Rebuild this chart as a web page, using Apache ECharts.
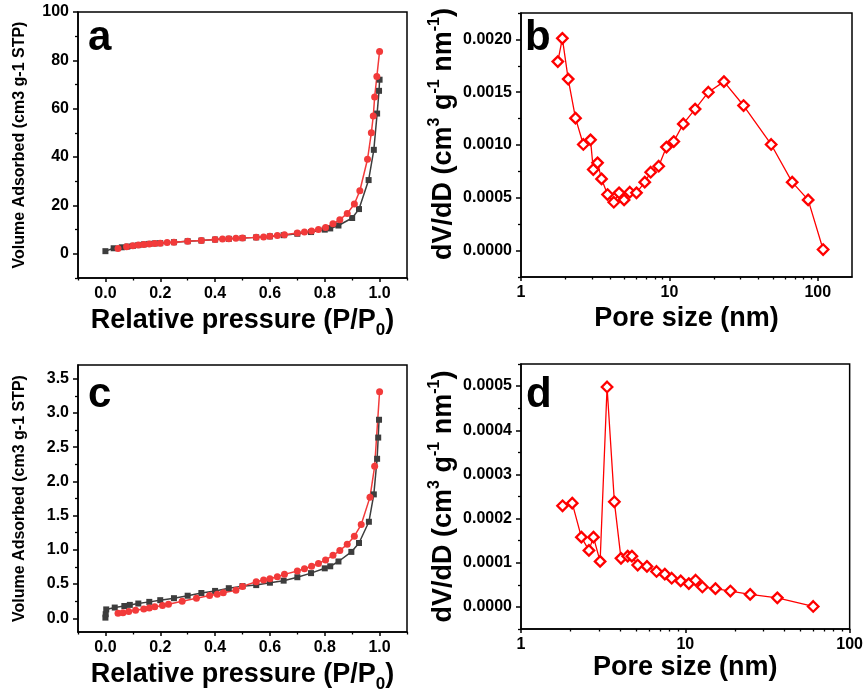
<!DOCTYPE html>
<html><head><meta charset="utf-8">
<script src="https://cdn.jsdelivr.net/npm/echarts@6/dist/echarts.min.js"></script>
<style>html,body{margin:0;padding:0;background:#fff}#c{width:866px;height:700px}</style>
</head><body><div id="c"></div>
<script>
// ---------- Panel a (isotherm, sample 1) ----------
const aAdsP = [0.0, 0.03, 0.06, 0.08, 0.10, 0.12, 0.14, 0.16, 0.18, 0.20, 0.25, 0.30, 0.35, 0.40, 0.45, 0.50, 0.55, 0.60, 0.65, 0.70, 0.75, 0.80, 0.82, 0.85, 0.90, 0.925, 0.96, 0.979, 0.991, 0.998, 1.0];
const aAdsV = [1.1, 2.3, 2.7, 3.0, 3.3, 3.6, 3.9, 4.1, 4.3, 4.4, 4.8, 5.2, 5.5, 5.9, 6.2, 6.5, 6.8, 7.2, 7.7, 8.3, 9.0, 10.0, 10.5, 11.7, 14.8, 18.5, 30.5, 43, 58, 67.4, 72];
const aDesP = [0.046, 0.077, 0.10, 0.12, 0.14, 0.16, 0.18, 0.20, 0.225, 0.25, 0.30, 0.35, 0.40, 0.427, 0.45, 0.476, 0.50, 0.55, 0.577, 0.60, 0.627, 0.653, 0.70, 0.726, 0.752, 0.777, 0.803, 0.83, 0.855, 0.882, 0.908, 0.928, 0.956, 0.970, 0.977, 0.982, 0.99, 1.0];
const aDesV = [2.2, 2.9, 3.3, 3.6, 3.9, 4.1, 4.3, 4.4, 4.7, 4.8, 5.2, 5.5, 5.9, 6.1, 6.2, 6.4, 6.5, 6.8, 7.0, 7.3, 7.6, 7.9, 8.6, 9.0, 9.4, 10.1, 10.9, 12.4, 14.1, 16.7, 20.6, 26.1, 39.1, 50.1, 57, 64.8, 73.3, 83.7];

// ---------- Panel b (pore size distribution, sample 1) ----------
const bSize = [1.77, 1.90, 2.08, 2.33, 2.63, 2.94, 3.07, 3.28, 3.49, 3.83, 4.22, 4.58, 4.95, 5.41, 6.0, 6.82, 7.48, 8.47, 9.55, 10.7, 12.4, 14.9, 18.3, 23.3, 31.6, 48.5, 67.2, 86.1, 108.6];
const bDvdd = [0.00179, 0.00201, 0.001624, 0.001254, 0.001005, 0.001049, 0.000768, 0.000831, 0.000679, 0.000531, 0.000458, 0.000547, 0.00048, 0.000553, 0.000547, 0.000648, 0.000742, 0.000799, 0.00098, 0.001033, 0.0012, 0.00134, 0.0015, 0.0016, 0.001374, 0.001005, 0.000648, 0.00048, 0.00001];

// ---------- Panel c (isotherm, sample 2) ----------
const cAdsP = [0.0, 0.001, 0.003, 0.034, 0.069, 0.089, 0.12, 0.16, 0.20, 0.25, 0.30, 0.35, 0.40, 0.45, 0.50, 0.55, 0.60, 0.65, 0.70, 0.75, 0.80, 0.82, 0.85, 0.897, 0.925, 0.961, 0.979, 0.991, 0.995, 0.998];
const cAdsV = [0.01, 0.06, 0.13, 0.157, 0.18, 0.196, 0.216, 0.24, 0.265, 0.294, 0.33, 0.37, 0.40, 0.44, 0.47, 0.485, 0.52, 0.55, 0.60, 0.66, 0.73, 0.76, 0.83, 0.97, 1.10, 1.41, 1.81, 2.33, 2.64, 2.90];
const cDesP = [0.046, 0.064, 0.085, 0.11, 0.14, 0.16, 0.18, 0.208, 0.23, 0.28, 0.332, 0.38, 0.408, 0.43, 0.476, 0.50, 0.55, 0.577, 0.60, 0.627, 0.653, 0.70, 0.726, 0.752, 0.777, 0.803, 0.83, 0.855, 0.882, 0.908, 0.933, 0.965, 0.982, 1.0];
const cDesV = [0.074, 0.083, 0.098, 0.118, 0.137, 0.152, 0.167, 0.186, 0.206, 0.25, 0.294, 0.333, 0.353, 0.373, 0.41, 0.466, 0.534, 0.559, 0.578, 0.608, 0.642, 0.69, 0.725, 0.76, 0.80, 0.853, 0.92, 0.99, 1.08, 1.20, 1.37, 1.77, 2.22, 3.31];

// ---------- Panel d (pore size distribution, sample 2) ----------
const dSize = [1.79, 2.05, 2.33, 2.59, 2.76, 3.03, 3.34, 3.70, 4.06, 4.46, 4.73, 5.13, 5.84, 6.68, 7.5, 8.26, 9.37, 10.5, 11.55, 12.7, 15.25, 18.8, 24.8, 36.3, 60];
const dDvdd = [0.000229, 0.000235, 0.000158, 0.000128, 0.000158, 0.000103, 0.000498, 0.000238, 0.00011, 0.000115, 0.000115, 0.0000948, 0.0000917, 0.0000803, 0.0000742, 0.000065, 0.0000589, 0.0000528, 0.0000604, 0.0000451, 0.0000413, 0.0000359, 0.0000283, 0.0000206, 0.000001];

// ---------- Tick values ----------
const isoXTicks = [0, 0.2, 0.4, 0.6, 0.8, 1.0];
const isoXMinor = [-0.1, 0.1, 0.3, 0.5, 0.7, 0.9, 1.1];
const aYTicks = [0, 20, 40, 60, 80, 100];
const aYMinor = [-10, 10, 30, 50, 70, 90];
const bYTicks = [0, 0.0005, 0.001, 0.0015, 0.002];
const bYMinor = [-0.00025, 0.00025, 0.00075, 0.00125, 0.00175, 0.00225];
const cYTicks = [0, 0.5, 1.0, 1.5, 2.0, 2.5, 3.0, 3.5];
const cYMinor = [0.25, 0.75, 1.25, 1.75, 2.25, 2.75, 3.25];
const dYTicks = [0, 0.0001, 0.0002, 0.0003, 0.0004, 0.0005];
const dYMinor = [-0.00005, 0.00005, 0.00015, 0.00025, 0.00035, 0.00045, 0.00055];
const logMinor = [2, 3, 4, 5, 6, 7, 8, 9, 20, 30, 40, 50, 60, 70, 80, 90];
const panelLetters = ['a', 'b', 'c', 'd'];

const FONT = '"Liberation Sans", Arial, sans-serif';
const BLACK = '#3d3d3d', RED = '#f23a3a', PURE_RED = '#ff0000';
const zip = (xs, ys) => xs.map((x, i) => [x, ys[i]]);

const lblStyle = { color: '#000', fontSize: 16, fontWeight: 'bold', fontFamily: FONT };
const lineSt = { color: '#000', width: 1.5 };

function grid(l, t, w, h) {
  return { left: l, top: t, width: w, height: h, show: true, borderColor: '#000', borderWidth: 1.5, backgroundColor: 'transparent', containLabel: false };
}
function valX(gi, min, max, ticks, dec, name, gap, rich) {
  return {
    type: 'value', gridIndex: gi, position: 'bottom', min: min, max: max,
    axisLine: { show: true, onZero: false, lineStyle: lineSt },
    axisTick: { show: true, length: 4, customValues: ticks, lineStyle: lineSt },
    axisLabel: Object.assign({ customValues: ticks, margin: 8, formatter: v => Number(v).toFixed(dec) }, lblStyle),
    splitLine: { show: false },
    name: name, nameLocation: 'middle', nameGap: gap, nameTextStyle: { rich: rich }
  };
}
function logX(gi, min, max, showMax, name, gap, rich) {
  return {
    type: 'log', logBase: 10, gridIndex: gi, position: 'bottom', min: min, max: max,
    axisLine: { show: true, onZero: false, lineStyle: lineSt },
    axisTick: { show: true, length: 4, lineStyle: lineSt },
    axisLabel: Object.assign({ margin: 8, showMinLabel: true, showMaxLabel: showMax, formatter: v => String(Math.round(v)) }, lblStyle),
    splitLine: { show: false },
    name: name, nameLocation: 'middle', nameGap: gap, nameTextStyle: { rich: rich }
  };
}
function valY(gi, min, max, ticks, dec, name, gap, nameStyle) {
  return {
    type: 'value', gridIndex: gi, position: 'left', min: min, max: max,
    axisLine: { show: true, onZero: false, lineStyle: lineSt },
    axisTick: { show: true, length: 5, customValues: ticks, lineStyle: lineSt },
    axisLabel: Object.assign({ customValues: ticks, margin: 9, formatter: v => Number(v).toFixed(dec) }, lblStyle),
    splitLine: { show: false },
    name: name, nameLocation: 'middle', nameGap: gap, nameTextStyle: nameStyle
  };
}
function minor(dim, gi, min, max, ticks, len) {
  return {
    type: 'value', gridIndex: gi, position: dim === 'x' ? 'bottom' : 'left', min: min, max: max,
    axisLine: { show: false, onZero: false }, axisLabel: { show: false }, splitLine: { show: false },
    axisTick: { show: true, length: len, customValues: ticks, lineStyle: { color: '#000', width: 1.3 } }
  };
}

const xRich = {
  m: { fontSize: 27, fontWeight: 'bold', fontFamily: FONT, color: '#000', lineHeight: 36 },
  s: { fontSize: 17, fontWeight: 'bold', fontFamily: FONT, color: '#000', lineHeight: 16, verticalAlign: 'bottom' }
};
const yRich = {
  m: { fontSize: 27, fontWeight: 'bold', fontFamily: FONT, color: '#000', lineHeight: 33 },
  p: { fontSize: 16, fontWeight: 'bold', fontFamily: FONT, color: '#000', lineHeight: 16, verticalAlign: 'top' }
};
const isoXName = '{m|Relative pressure (P/P}{s|0}{m|)}';
const poreXName = '{m|Pore size (nm)}';
const dvName = '{m|dV/dD (cm}{p|3}{m| g}{p|-1}{m| nm}{p|-1}{m|)}';
const volName = 'Volume Adsorbed (cm3 g-1 STP)';
const volStyle = { fontSize: 16, fontWeight: 'bold', fontFamily: FONT, color: '#000' };
const dvStyleB = { rich: yRich, padding: [0, 0, 0, 22] };
const dvStyleD = { rich: yRich };

const bMax = 170;
const log10 = v => Math.log(v) / Math.LN10;

const option = {
  animation: false,
  backgroundColor: '#fff',
  title: [
    { text: panelLetters[0], left: 88, top: 17 },
    { text: panelLetters[1], left: 525, top: 17 },
    { text: panelLetters[2], left: 88, top: 374 },
    { text: panelLetters[3], left: 526, top: 374 }
  ].map(t => Object.assign(t, { padding: 0, textStyle: { fontSize: 42, fontWeight: 'bold', fontFamily: FONT, color: '#000' } })),
  grid: [grid(78, 12, 329, 266), grid(521, 13, 331, 264), grid(78, 365, 329, 267), grid(521, 364, 331, 265)],
  xAxis: [
    valX(0, -0.1, 1.1, isoXTicks, 1, isoXName, 25, xRich),
    logX(1, 1, bMax, false, poreXName, 24, xRich),
    valX(2, -0.1, 1.1, isoXTicks, 1, isoXName, 25, xRich),
    logX(3, 1, 100, true, poreXName, 21, xRich),
    minor('x', 0, -0.1, 1.1, isoXMinor, 2.5),
    minor('x', 1, 0, log10(bMax), logMinor.map(log10), 2.5),
    minor('x', 2, -0.1, 1.1, isoXMinor, 2.5),
    minor('x', 3, 0, 2, logMinor.map(log10), 2.5)
  ],
  yAxis: [
    valY(0, -10, 100, aYTicks, 0, volName, 50, volStyle),
    valY(1, -0.00025, 0.00225, bYTicks, 4, dvName, 61, dvStyleB),
    valY(2, -0.2, 3.7, cYTicks, 1, volName, 50, volStyle),
    valY(3, -0.00005, 0.00055, dYTicks, 4, dvName, 61, dvStyleD),
    minor('y', 0, -10, 100, aYMinor, 3),
    minor('y', 1, -0.00025, 0.00225, bYMinor, 3),
    minor('y', 2, -0.2, 3.7, cYMinor, 3),
    minor('y', 3, -0.00005, 0.00055, dYMinor, 3)
  ],
  series: [
    { type: 'line', xAxisIndex: 0, yAxisIndex: 0, data: zip(aAdsP, aAdsV), symbol: 'rect', symbolSize: 6, itemStyle: { color: BLACK }, lineStyle: { color: BLACK, width: 1.5 } },
    { type: 'line', xAxisIndex: 0, yAxisIndex: 0, data: zip(aDesP, aDesV), symbol: 'circle', symbolSize: 7, itemStyle: { color: RED }, lineStyle: { color: RED, width: 1.5 } },
    { type: 'line', xAxisIndex: 1, yAxisIndex: 1, data: zip(bSize, bDvdd), symbol: 'diamond', symbolSize: 10.5, itemStyle: { color: '#fff', borderColor: PURE_RED, borderWidth: 2.3 }, lineStyle: { color: PURE_RED, width: 1.3 } },
    { type: 'line', xAxisIndex: 2, yAxisIndex: 2, data: zip(cAdsP, cAdsV), symbol: 'rect', symbolSize: 6, itemStyle: { color: BLACK }, lineStyle: { color: BLACK, width: 1.5 } },
    { type: 'line', xAxisIndex: 2, yAxisIndex: 2, data: zip(cDesP, cDesV), symbol: 'circle', symbolSize: 7, itemStyle: { color: RED }, lineStyle: { color: RED, width: 1.5 } },
    { type: 'line', xAxisIndex: 3, yAxisIndex: 3, data: zip(dSize, dDvdd), symbol: 'diamond', symbolSize: 10.5, itemStyle: { color: '#fff', borderColor: PURE_RED, borderWidth: 2.3 }, lineStyle: { color: PURE_RED, width: 1.3 } }
  ]
};
option.series.forEach(s => { s.showAllSymbol = true; s.clip = false; s.emphasis = { disabled: true }; });

const chart = echarts.init(document.getElementById('c'), null, { renderer: 'canvas' });
chart.setOption(option);
</script>
</body></html>
